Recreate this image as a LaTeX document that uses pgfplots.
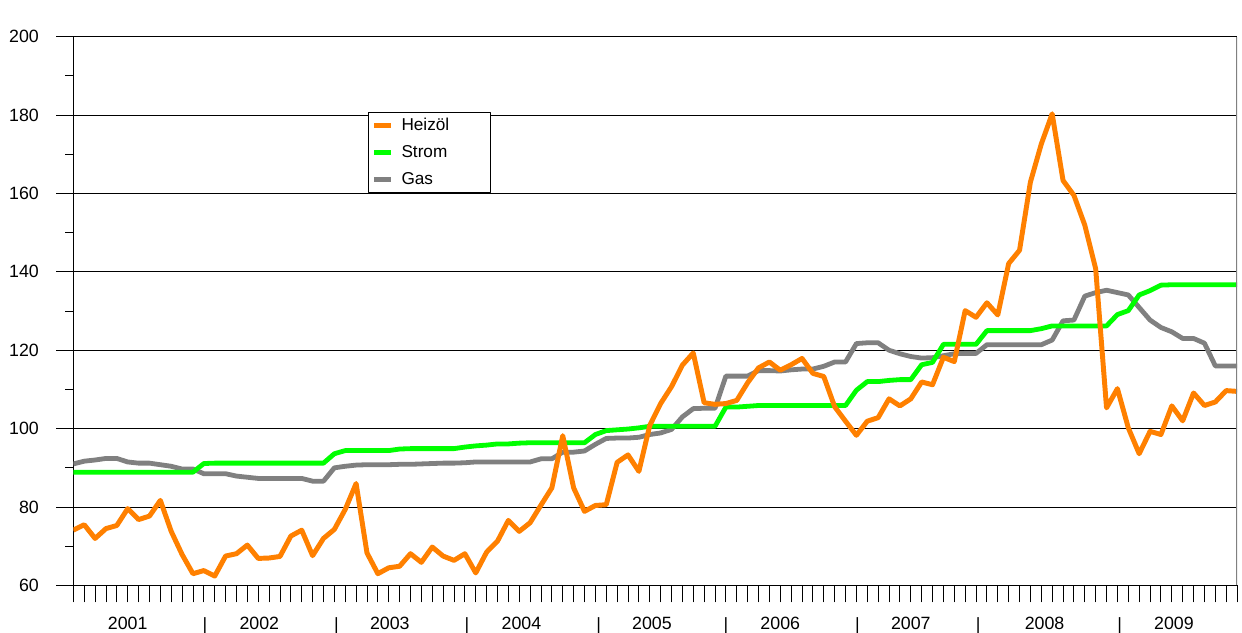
\documentclass[border=0pt]{standalone}
\usepackage{pgfplots}
\pgfplotsset{compat=1.18}
\usepackage{pgfplotstable}
\usepackage{fontspec}
\setmainfont{Liberation Sans}
\definecolor{heiz}{RGB}{255,128,0}
\definecolor{strom}{RGB}{0,255,0}
\definecolor{gasc}{RGB}{128,128,128}
\pgfplotstableread{
m h s g
0 74.1 88.9 91.0
1 75.5 88.9 91.7
2 72.0 88.9 92.0
3 74.5 88.9 92.4
4 75.3 88.9 92.4
5 79.6 88.9 91.5
6 76.8 88.9 91.2
7 77.7 88.9 91.2
8 81.7 88.9 90.8
9 73.8 88.9 90.4
10 67.9 88.9 89.7
11 63.0 88.9 89.7
12 63.8 91.1 88.5
13 62.4 91.2 88.5
14 67.5 91.2 88.5
15 68.1 91.2 87.9
16 70.3 91.2 87.6
17 66.9 91.2 87.3
18 67.0 91.2 87.3
19 67.4 91.2 87.3
20 72.6 91.2 87.3
21 74.1 91.2 87.3
22 67.6 91.2 86.6
23 72.0 91.2 86.6
24 74.3 93.6 90.0
25 79.4 94.4 90.4
26 86.0 94.4 90.7
27 68.3 94.4 90.8
28 63.0 94.4 90.8
29 64.5 94.4 90.8
30 64.9 94.8 90.9
31 68.1 94.9 90.9
32 65.9 94.9 91.0
33 69.8 94.9 91.1
34 67.5 94.9 91.2
35 66.4 94.9 91.2
36 68.1 95.3 91.3
37 63.2 95.6 91.5
38 68.5 95.8 91.5
39 71.3 96.1 91.5
40 76.6 96.1 91.5
41 73.8 96.3 91.5
42 76.0 96.4 91.5
43 80.5 96.4 92.3
44 84.9 96.4 92.3
45 98.2 96.4 94.0
46 84.9 96.4 94.0
47 78.9 96.4 94.3
48 80.4 98.5 96.0
49 80.6 99.5 97.5
50 91.4 99.7 97.6
51 93.3 99.9 97.6
52 89.1 100.2 97.8
53 100.8 100.6 98.5
54 106.4 100.6 98.9
55 110.7 100.6 99.8
56 116.2 100.6 103.0
57 119.3 100.6 105.1
58 106.6 100.6 105.2
59 106.2 100.6 105.2
60 106.4 105.5 113.4
61 107.2 105.5 113.4
62 111.7 105.7 113.4
63 115.5 105.9 114.8
64 117.0 105.9 114.8
65 114.9 105.9 114.7
66 116.3 105.9 115.0
67 117.9 105.9 115.2
68 114.1 105.9 115.2
69 113.3 105.9 115.9
70 105.6 105.9 117.0
71 101.9 105.9 117.0
72 98.3 109.8 121.7
73 101.9 112.0 121.9
74 102.8 112.0 121.9
75 107.6 112.3 120.0
76 105.8 112.5 119.1
77 107.6 112.5 118.4
78 111.9 116.3 118.0
79 111.2 116.9 118.1
80 118.2 121.5 118.6
81 117.1 121.5 119.1
82 130.1 121.5 119.2
83 128.4 121.5 119.2
84 132.1 125.0 121.4
85 129.0 125.0 121.4
86 142.1 125.0 121.4
87 145.5 125.0 121.4
88 162.9 125.0 121.4
89 172.6 125.5 121.4
90 180.3 126.2 122.6
91 163.3 126.2 127.5
92 159.5 126.2 127.7
93 151.9 126.2 133.8
94 140.8 126.2 134.7
95 105.3 126.2 135.3
96 110.2 129.1 134.7
97 100.2 130.1 134.1
98 93.6 134.1 130.9
99 99.3 135.2 127.7
100 98.5 136.6 125.8
101 105.8 136.7 124.7
102 102.0 136.7 123.0
103 109.1 136.7 123.0
104 105.9 136.7 121.8
105 106.8 136.7 116.0
106 109.7 136.7 116.0
107 109.5 136.7 116.0
}\data
\begin{document}
\begin{tikzpicture}
\begin{axis}[
  name=ax,
  scale only axis, width=776bp, height=366bp,
  xmin=0, xmax=107, ymin=60, ymax=200,
  axis x line*=bottom, axis y line*=left,
  axis line style={black, line width=0.6bp, -},
  tick align=outside,
  major tick length=11.3bp, minor tick length=5.5bp,
  tick style={black, line width=0.6bp},
  ytick={60,80,...,200}, minor ytick={70,90,...,190},
  ymajorgrids, major grid style={black, line width=0.6bp},
  xtick={0,...,107}, xticklabels={},
  extra x ticks={5.0,12.1,17.1,24.2,29.1,36.2,41.2,48.3,53.2,60.0,65.0,72.1,77.0,83.2,89.3,96.2,101.2},
  extra x tick labels={2001,|,2002,|,2003,|,2004,|,2005,|,2006,|,2007,|,2008,|,2009},
  extra x tick style={tick style={draw=none}, tick label style={yshift=-6.3bp}},
  /pgf/number format/assume math mode=true,
  tick label style={font=\fontsize{11.9}{13}\selectfont},
  yticklabel style={xshift=-8.2bp},
  legend style={at={(0.2534,0.863)}, anchor=north west, draw=black, line width=0.6bp,
    fill=white, font=\fontsize{11.5}{13}\selectfont, inner xsep=2bp, inner ysep=1.8bp,
    row sep=3.3bp, cells={anchor=west},
    nodes={inner sep=2bp, text height=8.5bp, text depth=2bp}},
  legend image code/.code={\draw[#1, line width=3.3bp] (0bp,0bp) -- (11.3bp,0bp); \path (14.6bp,0bp);},
  reverse legend,
  line join=round,
]
\addplot[gasc, line width=3.2bp, no marks] table[x=m, y=g] {\data};
\addlegendentry{\makebox[55bp][l]{Gas}}
\addplot[strom, line width=3.2bp, no marks] table[x=m, y=s] {\data};
\addlegendentry{\makebox[55bp][l]{Strom}}
\addplot[heiz, line width=3.3bp, no marks] table[x=m, y=h] {\data};
\addlegendentry{\makebox[55bp][l]{Heizöl}}
\draw[gasc, line width=0.8bp] (rel axis cs:1,0) -- (rel axis cs:1,1);
\node[anchor=base west, inner sep=0pt, yshift=9.2bp, xshift=0.7bp, font=\fontsize{12.2}{13}\selectfont] at (rel axis cs:0,1) {Indexstand};
\end{axis}
\pgfresetboundingbox
\path ([shift={(-48.9bp,-31.3bp)}]ax.south west) rectangle ([shift={(3.3bp,24.4bp)}]ax.north east);
\end{tikzpicture}
\end{document}
